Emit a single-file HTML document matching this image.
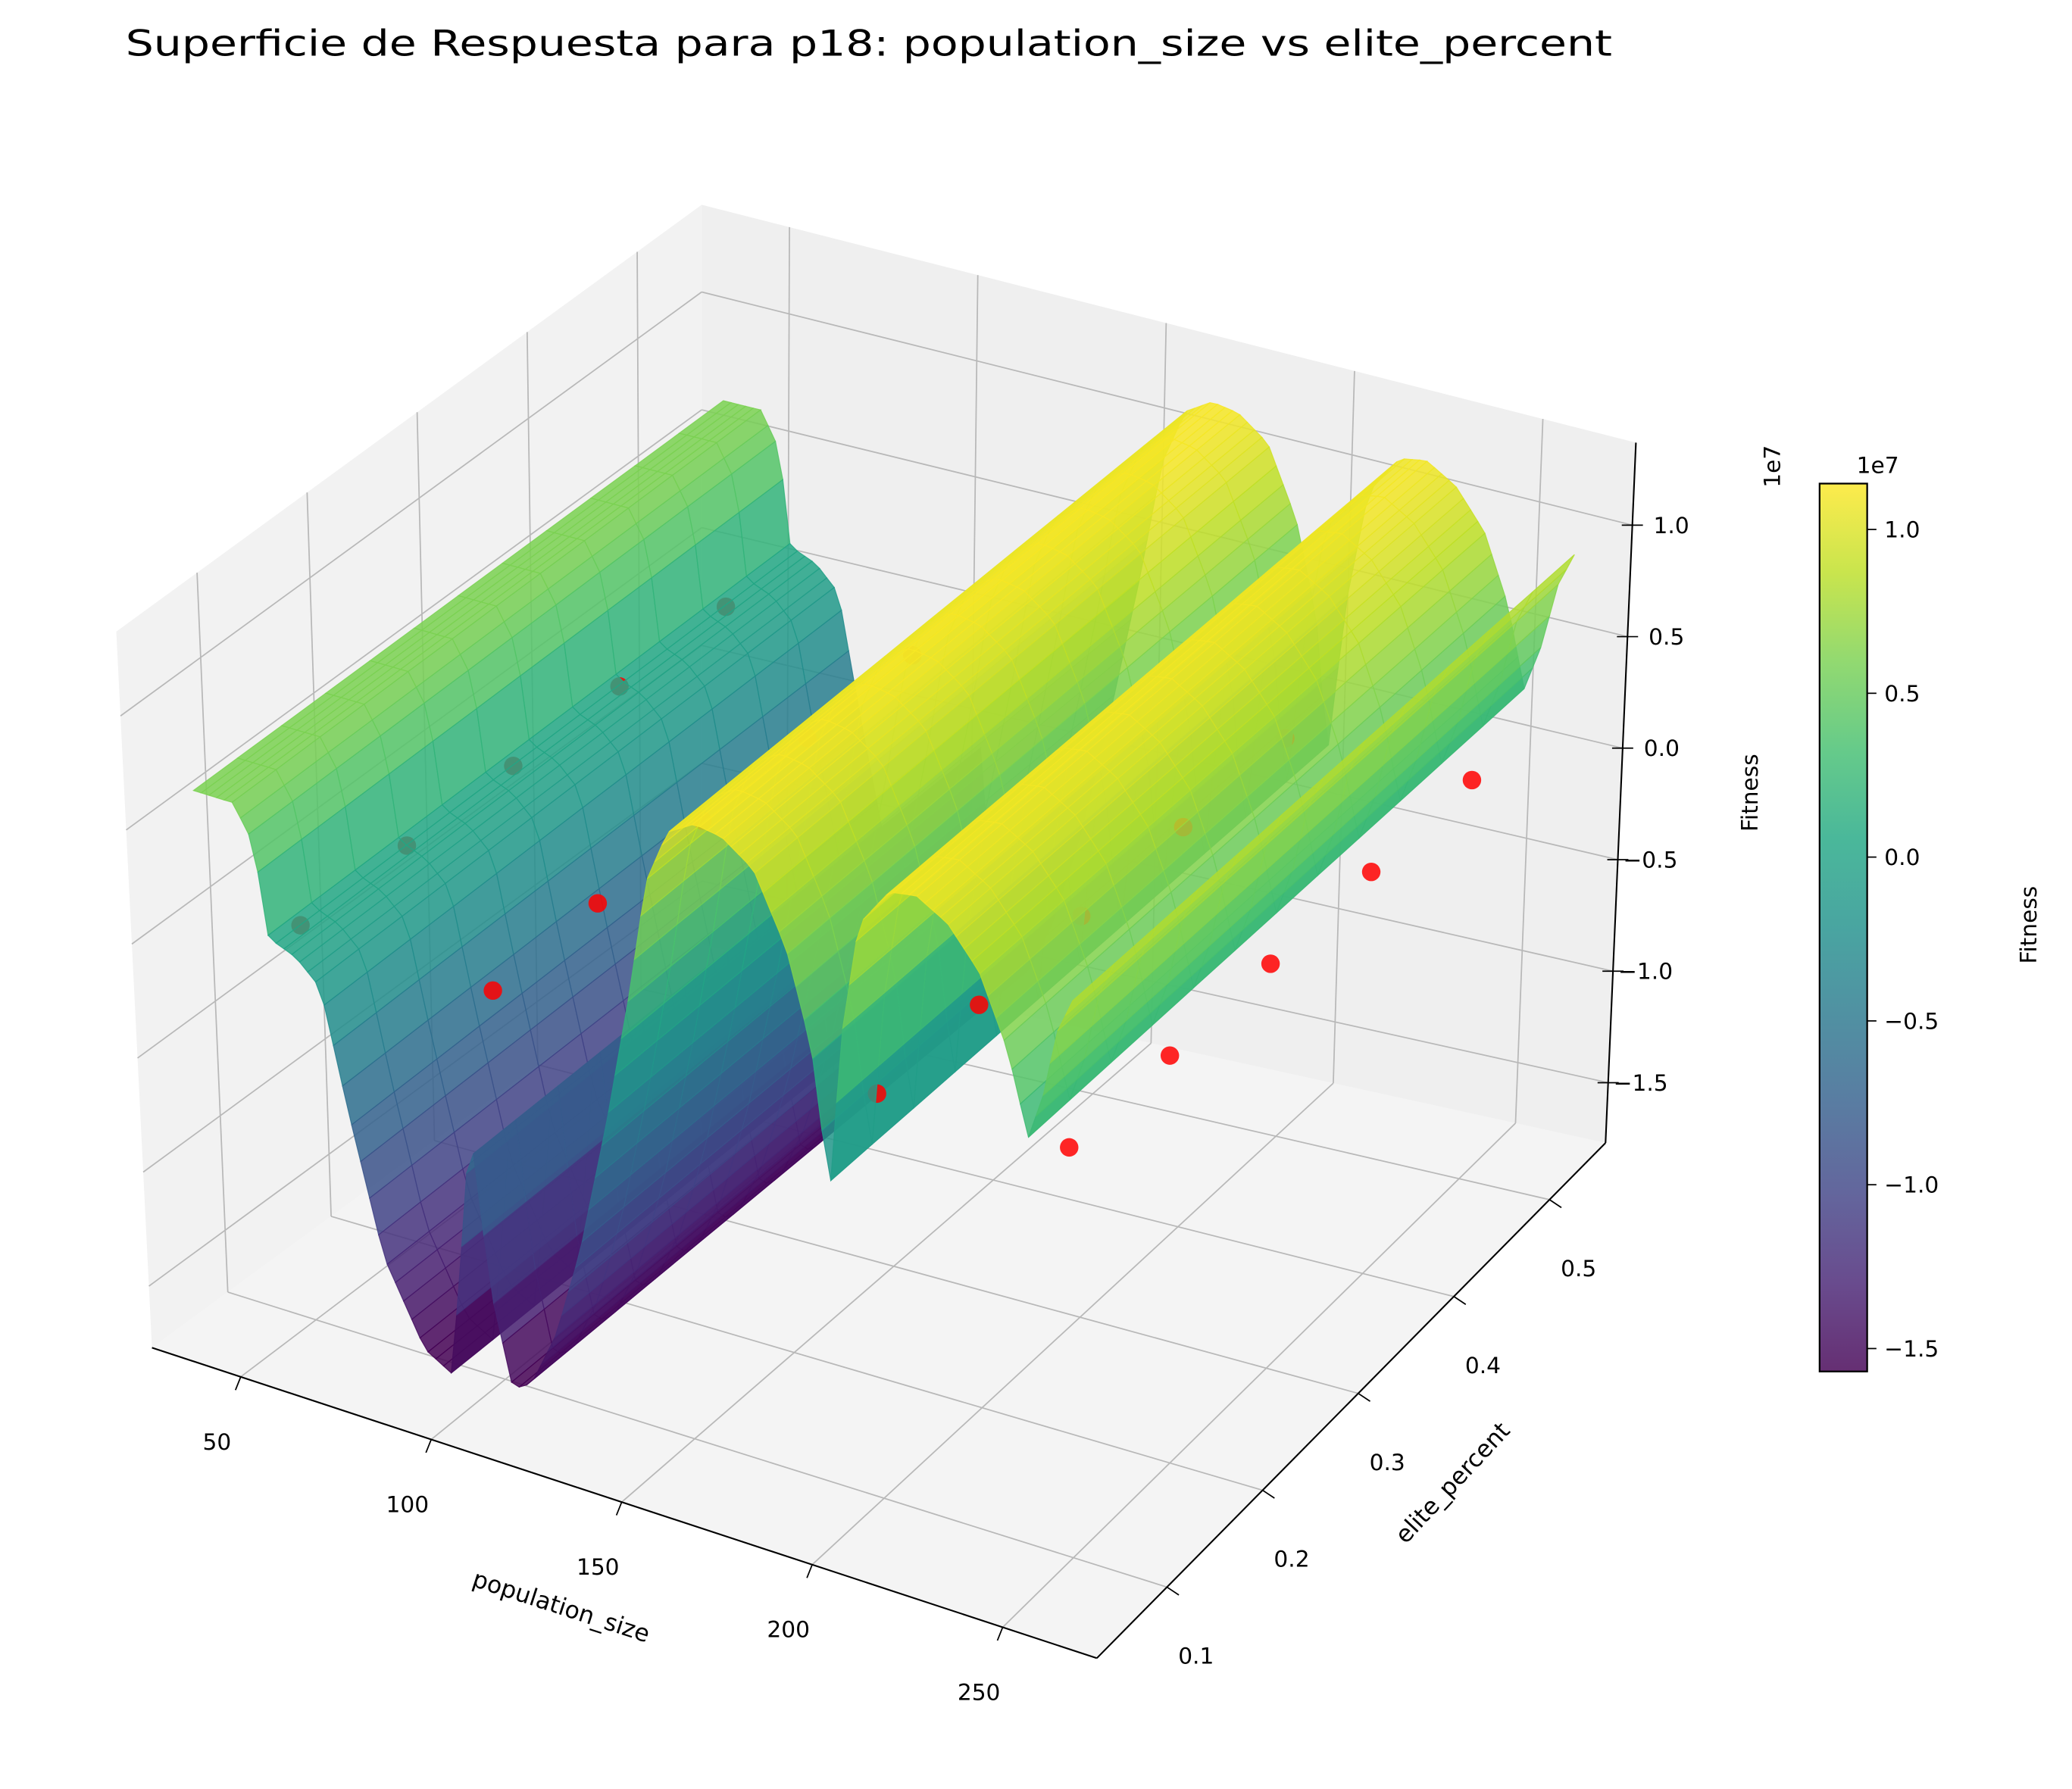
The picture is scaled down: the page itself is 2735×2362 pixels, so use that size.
<!DOCTYPE html>
<html><head><meta charset="utf-8"><title>Superficie de Respuesta p18</title>
<style>html,body{margin:0;padding:0;background:#fff;}svg{display:block;}text{font-family:"DejaVu Sans","Liberation Sans",sans-serif;fill:#000;}</style>
</head><body>
<svg id="chart" xmlns="http://www.w3.org/2000/svg" width="2735" height="2362" viewBox="0 0 1568 1354" preserveAspectRatio="none">
<defs>
<linearGradient id="vir" x1="0" y1="1" x2="0" y2="0">
<stop offset="0" stop-color="#440154"/><stop offset="0.1" stop-color="#482475"/><stop offset="0.2" stop-color="#414487"/><stop offset="0.3" stop-color="#355f8d"/><stop offset="0.4" stop-color="#2a788e"/><stop offset="0.5" stop-color="#21918c"/><stop offset="0.6" stop-color="#22a884"/><stop offset="0.7" stop-color="#44bf70"/><stop offset="0.8" stop-color="#7ad151"/><stop offset="0.9" stop-color="#bddf26"/><stop offset="1" stop-color="#fde725"/>
</linearGradient>
</defs>
<text x="95" y="42" font-size="27" textLength="1125" lengthAdjust="spacingAndGlyphs">Superficie de Respuesta para p18: population_size vs elite_percent</text>
<g id="panes"></g>
<g id="grid"></g>
<g id="surface"></g>
<g id="axes"></g>
<text x="425" y="1222" font-size="18" text-anchor="middle" transform="rotate(18 425 1215)">population_size</text>
<text x="1100" y="1128" font-size="18" text-anchor="middle" transform="rotate(-47 1100 1123)">elite_percent</text>
<text x="1325" y="605" font-size="17" text-anchor="middle" transform="rotate(-90 1325 600)">Fitness</text>
<text x="1352" y="358" font-size="17" text-anchor="middle" transform="rotate(-90 1347 358)">1e7</text>
<g>
<rect x="1377" y="366" width="36" height="672" fill="url(#vir)" fill-opacity="0.82" stroke="#000" stroke-width="1.3"/>
<text x="1421" y="358" font-size="17" text-anchor="middle">1e7</text>
<text x="1546" y="705" font-size="17" text-anchor="middle" transform="rotate(-90 1541 705)">Fitness</text>
<g id="cbticks"></g>
</g>
</svg>
<script>
const popTicks=[50,100,150,200,250];
const eliteTicks=[0.1,0.2,0.3,0.4,0.5];
const zTicks=[1.0,0.5,0.0,-0.5,-1.0,-1.5];
const cbTicks=[1.0,0.5,0.0,-0.5,-1.0,-1.5];
const profilePop=[35,45,50,53,60,66,72,80,90,97,101,104,108,113,118,125,132,140,147,152,158,165,172,180,188,194,198,202,207,215,222,230,238,245,250,254,258,262];
const profileFit=[0.6,0.6,0.45,0.05,0.0,-0.1,-0.6,-1.2,-1.55,-1.62,-1.0,-0.5,-1.2,-1.6,-1.55,-1.3,-0.9,-0.3,0.3,0.8,1.05,1.12,1.1,1.0,0.7,0.3,-0.3,0.4,0.9,1.08,1.1,1.02,0.85,0.55,0.2,0.4,0.7,0.85];
const scatterPop=[50,100,200,250];
const scatterElite=[0.1,0.2,0.3,0.4,0.5];
const scatterFit=[[-0.05,-0.05,-0.05,-0.05,-0.05],[-0.08,-0.06,-0.06,-0.06,-0.06],[-0.02,-0.02,-0.02,-0.02,-0.02],[0.0,0.0,0.0,0.0,0.0]];

const XMIN=26.7,XMAX=274.7,YMIN=0.0266,YMAX=0.5586,ZMIN=-1.77,ZMAX=1.37;
const VMIN=-1.57,VMAX=1.14;
const FL=[115,1020],FF=[830,1255],FR=[1215,865],FB=[531,715];
const TL=[88,478],TF=[822,700],TR=[1238,335],TB=[531,155];
const NS='http://www.w3.org/2000/svg';
function bil(a,b,c,d,u,v){return [a[0]*(1-u)*(1-v)+b[0]*u*(1-v)+c[0]*u*v+d[0]*(1-u)*v,a[1]*(1-u)*(1-v)+b[1]*u*(1-v)+c[1]*u*v+d[1]*(1-u)*v];}
function P(x,y,z){const u=(x-XMIN)/(XMAX-XMIN),v=(y-YMIN)/(YMAX-YMIN),w=(z-ZMIN)/(ZMAX-ZMIN);
 const f=bil(FL,FF,FR,FB,u,v),t=bil(TL,TF,TR,TB,u,v);return [f[0]+(t[0]-f[0])*w,f[1]+(t[1]-f[1])*w];}
const vs=[[68,1,84],[72,36,117],[65,68,135],[53,95,141],[42,120,142],[33,145,140],[34,168,132],[68,191,112],[122,209,81],[189,223,38],[253,231,37]];
function vir(z){let t=(z-VMIN)/(VMAX-VMIN);t=Math.max(0,Math.min(1,t))*10;const i=Math.min(9,Math.floor(t)),f=t-i;const a=vs[i],b=vs[i+1];
 return 'rgb('+[0,1,2].map(k=>Math.round(a[k]+(b[k]-a[k])*f)).join(',')+')';}
function el(tag,attrs,parent){const e=document.createElementNS(NS,tag);for(const k in attrs)e.setAttribute(k,attrs[k]);parent.appendChild(e);return e;}
function pts(a){return a.map(p=>p[0].toFixed(1)+','+p[1].toFixed(1)).join(' ');}
function line(p,q,parent,stroke,w){return el('line',{x1:p[0],y1:p[1],x2:q[0],y2:q[1],stroke:stroke,'stroke-width':w},parent);}
function fmt(v){const s=Math.abs(v).toFixed(1);return v<0?'\u2212'+s:s;}

const panes=document.getElementById('panes');
let e;
e=el('polygon',{points:pts([P(XMIN,YMIN,ZMIN),P(XMAX,YMIN,ZMIN),P(XMAX,YMAX,ZMIN),P(XMIN,YMAX,ZMIN)]),fill:'#f4f4f4'},panes);

e=el('polygon',{points:pts([P(XMIN,YMIN,ZMIN),P(XMIN,YMAX,ZMIN),P(XMIN,YMAX,ZMAX),P(XMIN,YMIN,ZMAX)]),fill:'#f2f2f2'},panes);

e=el('polygon',{points:pts([P(XMIN,YMAX,ZMIN),P(XMAX,YMAX,ZMIN),P(XMAX,YMAX,ZMAX),P(XMIN,YMAX,ZMAX)]),fill:'#efefef'},panes);


const grid=document.getElementById('grid');const GC='#b8b8b8';
popTicks.forEach(x=>{
 e=line(P(x,YMIN,ZMIN),P(x,YMAX,ZMIN),grid,GC,1);
 e=line(P(x,YMAX,ZMIN),P(x,YMAX,ZMAX),grid,GC,1);
});
eliteTicks.forEach(y=>{
 e=line(P(XMIN,y,ZMIN),P(XMAX,y,ZMIN),grid,GC,1);
 e=line(P(XMIN,y,ZMIN),P(XMIN,y,ZMAX),grid,GC,1);
});
zTicks.forEach(z=>{
 e=line(P(XMIN,YMIN,z),P(XMIN,YMAX,z),grid,GC,1);
 e=line(P(XMIN,YMAX,z),P(XMAX,YMAX,z),grid,GC,1);
});

function prof(x){if(x<=profilePop[0])return profileFit[0];for(let i=1;i<profilePop.length;i++){if(x<=profilePop[i]){const f=(x-profilePop[i-1])/(profilePop[i]-profilePop[i-1]);return profileFit[i-1]+(profileFit[i]-profileFit[i-1])*f;}}return profileFit[profileFit.length-1];}
const surf=document.getElementById('surface');
const items=[];
const SX0=profilePop[0],SX1=profilePop[profilePop.length-1],SY0=0.06,SY1=0.55,NX=114,NY=12;
for(let i=0;i<NX;i++){const x0=SX0+(SX1-SX0)*i/NX,x1=SX0+(SX1-SX0)*(i+1)/NX;const z0=prof(x0),z1=prof(x1);
 for(let j=0;j<NY;j++){const y0=SY0+(SY1-SY0)*j/NY,y1=SY0+(SY1-SY0)*(j+1)/NY;
  const u=((x0+x1)/2-XMIN)/(XMAX-XMIN),v=((y0+y1)/2-YMIN)/(YMAX-YMIN);
  items.push({k:(1-u)+v,t:'q',p:[P(x0,y0,z0),P(x1,y0,z1),P(x1,y1,z1),P(x0,y1,z0)],c:vir((z0+z1)/2)});}}
scatterPop.forEach((x,a)=>scatterElite.forEach((y,b)=>{const u=(x-XMIN)/(XMAX-XMIN),v=(y-YMIN)/(YMAX-YMIN);
 items.push({k:(1-u)+v-0.005,t:'s',p:P(x,y,scatterFit[a][b])});}));
items.sort((a,b)=>b.k-a.k);
items.forEach(it=>{
 if(it.t==='q'){const q=el('polygon',{points:pts(it.p),fill:it.c,stroke:it.c,'stroke-width':0.7,'fill-opacity':0.85,'stroke-opacity':0.85},surf);
  }
 else{const c=el('circle',{cx:it.p[0].toFixed(1),cy:it.p[1].toFixed(1),r:7,fill:'#ff0000','fill-opacity':0.85},surf);
  }
});

const ax=document.getElementById('axes');
e=line(P(XMIN,YMIN,ZMIN),P(XMAX,YMIN,ZMIN),ax,'#000',1.2);
e=line(P(XMAX,YMIN,ZMIN),P(XMAX,YMAX,ZMIN),ax,'#000',1.2);
e=line(P(XMAX,YMAX,ZMIN),P(XMAX,YMAX,ZMAX),ax,'#000',1.2);
popTicks.forEach(x=>{const p=P(x,YMIN,ZMIN);
 e=line(p,[p[0]-4,p[1]+10],ax,'#000',1);
 const t=el('text',{x:p[0]-18,y:p[1]+55,'font-size':17,'text-anchor':'middle'},ax);t.textContent=String(x);
 });
eliteTicks.forEach(y=>{const p=P(XMAX,y,ZMIN);
 e=line(p,[p[0]+9,p[1]+6],ax,'#000',1);
 const t=el('text',{x:p[0]+22,y:p[1]+58,'font-size':17,'text-anchor':'middle'},ax);t.textContent=y.toFixed(1);
 });
zTicks.forEach(z=>{const p=P(XMAX,YMAX,z);
 e=line([p[0]-8,p[1]],[p[0]+8,p[1]],ax,'#000',1);
 const t=el('text',{x:p[0]+16+(z<0?-12:0),y:p[1]+6,'font-size':17},ax);t.textContent=fmt(z);
 });

const cbt=document.getElementById('cbticks');
const CB0=366,CB1=1038,CBMAX=1.14,CBMIN=-1.57;
cbTicks.forEach(v=>{const y=CB1-(v-CBMIN)/(CBMAX-CBMIN)*(CB1-CB0);
 e=line([1413,y],[1420,y],cbt,'#000',1);
 const t=el('text',{x:1426,y:y+6,'font-size':17},cbt);t.textContent=fmt(v);
 });
</script>
</body></html>
